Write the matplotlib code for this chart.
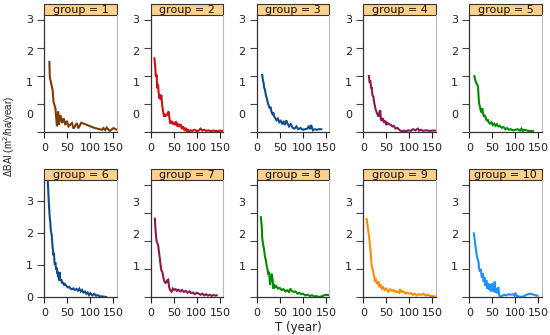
#!/usr/bin/env python3

# ten small panels of BAI decline with stand age, lattice-like strips

import matplotlib as mpl
mpl.use('Agg')
import matplotlib.pyplot as plt
import matplotlib.patches as mpatches
from matplotlib.ticker import FixedLocator

plt.rcParams['font.family'] = ['DejaVu Sans']

# ---- data (x = T in years, y = delta BAI) ----
x1 = [11, 12, 18, 20, 24, 27.5, 30, 31.5, 35, 38.5, 42, 45.5, 49, 52.5, 60, 63.5, 70.5, 74,
      80, 90, 100, 110, 125, 128, 132, 135, 142, 150, 157]
y1 = [2.5, 1.96, 1.5, 1.08, 0.85, 0.2, 0.73, 0.25, 0.61, 0.32, 0.49, 0.25, 0.4, 0.2, 0.32,
      0.12, 0.32, 0.13, 0.33, 0.27, 0.2, 0.14, 0.08, 0.14, 0.07, 0.16, 0.04, 0.14, 0.08]

x2 = [8, 10, 11, 13, 14, 16, 17, 19, 20, 22, 23, 25, 27, 29, 31, 33, 35, 37, 39, 41, 43, 45,
      47, 50, 52, 55, 57, 60, 62, 65, 68, 70, 73, 76, 78, 80, 83, 86, 90, 95, 100, 105, 108,
      112, 116, 120, 125, 130, 135, 140, 145, 150, 155, 160]
y2 = [2.63, 2.3, 1.98, 2.05, 1.56, 1.7, 1.45, 1.2, 1.35, 1.14, 1.32, 0.95, 0.7, 0.55, 0.62,
      0.58, 0.6, 0.68, 0.73, 0.45, 0.3, 0.4, 0.28, 0.35, 0.25, 0.38, 0.2, 0.3, 0.18, 0.28,
      0.1, 0.2, 0.08, 0.15, 0.02, 0.1, 0.0, 0.06, 0.04, 0.08, 0.03, 0.06, 0.12, 0.05, 0.08,
      0.04, 0.06, 0.03, 0.05, 0.04, 0.03, 0.05, 0.04, 0.05]

x3 = [12, 13, 15, 16, 18, 20, 22, 24, 26, 28, 30, 32, 34, 36, 38, 40, 43, 46, 49, 52, 55, 58,
      61, 64, 67, 70, 74, 78, 82, 86, 90, 95, 100, 105, 110, 113, 116, 118, 122, 126, 130,
      135, 140]
y3 = [2.04, 1.9, 1.75, 1.6, 1.5, 1.3, 1.2, 1.05, 0.95, 0.85, 0.9, 0.72, 0.65, 0.7, 0.55, 0.5,
      0.42, 0.48, 0.35, 0.4, 0.3, 0.36, 0.25, 0.42, 0.3, 0.2, 0.28, 0.15, 0.12, 0.2, 0.1,
      0.14, 0.08, 0.1, 0.12, 0.22, 0.1, 0.25, 0.06, 0.1, 0.08, 0.1, 0.1]

x4 = [12, 14, 15, 17, 18, 20, 22, 23, 25, 26, 28, 30, 32, 33, 35, 37, 38, 40, 42, 45, 48, 50,
      53, 56, 60, 63, 66, 70, 74, 78, 83, 88, 93, 98, 103, 108, 113, 118, 121, 125, 130, 135,
      140, 145, 150, 155, 160]
y4 = [2.0, 1.75, 1.85, 1.56, 1.6, 1.3, 1.26, 1.1, 0.95, 0.85, 0.75, 0.65, 0.6, 0.55, 0.72,
      0.77, 0.45, 0.4, 0.5, 0.33, 0.4, 0.25, 0.32, 0.28, 0.25, 0.2, 0.22, 0.12, 0.15, 0.08,
      0.02, 0.05, 0.03, 0.06, 0.04, 0.1, 0.06, 0.12, 0.05, 0.08, 0.04, 0.06, 0.05, 0.04,
      0.05, 0.05, 0.05]

x5 = [11, 13, 15, 17, 19, 20, 21, 23, 25, 27, 28, 30, 32, 34, 36, 38, 40, 42, 45, 48, 51, 54,
      57, 60, 63, 66, 70, 74, 78, 82, 86, 90, 95, 100, 105, 110, 113, 116, 120, 125, 130,
      135, 138]
y5 = [2.0, 1.85, 1.75, 1.7, 1.62, 1.3, 1.05, 0.9, 0.75, 0.7, 0.85, 0.65, 0.55, 0.6, 0.48, 0.4,
      0.45, 0.35, 0.3, 0.35, 0.25, 0.3, 0.22, 0.28, 0.2, 0.22, 0.15, 0.18, 0.1, 0.14, 0.08,
      0.1, 0.06, 0.08, 0.1, 0.05, 0.12, 0.04, 0.08, 0.05, 0.04, 0.03, 0.03]

x6 = [6, 8, 9, 10, 11, 12, 13, 14, 15, 16, 17, 18, 19, 20, 21, 22, 23, 24, 25, 26, 27, 28, 29,
      30, 31, 32, 33, 35, 37, 39, 41, 43, 45, 48, 51, 54, 57, 60, 63, 66, 70, 73, 76, 79, 82,
      85, 88, 91, 94, 97, 100, 104, 108, 112, 116, 120, 125, 130, 134]
y6 = [3.9, 3.5, 3.2, 2.9, 2.65, 2.45, 2.35, 2.1, 2.0, 1.95, 1.75, 1.55, 1.45, 1.3, 1.38, 1.1,
      1.0, 1.08, 0.95, 0.85, 0.92, 0.72, 0.8, 0.62, 0.7, 0.52, 0.78, 0.5, 0.55, 0.42, 0.46,
      0.36, 0.4, 0.34, 0.3, 0.32, 0.26, 0.24, 0.27, 0.22, 0.25, 0.2, 0.26, 0.17, 0.22, 0.14,
      0.17, 0.1, 0.14, 0.06, 0.12, 0.05, 0.1, 0.04, 0.06, 0.02, 0.02, 0.01, 0.0]

x7 = [9, 10, 12, 13, 15, 16, 18, 20, 21, 23, 25, 27, 28, 30, 32, 34, 36, 38, 40, 42, 45, 48,
      51, 54, 57, 60, 64, 68, 72, 76, 80, 84, 88, 92, 96, 100, 104, 108, 112, 116, 120, 124,
      128, 132, 136, 140, 143]
y7 = [2.8, 2.5, 2.1, 1.98, 1.9, 1.86, 1.6, 1.35, 1.2, 0.96, 0.9, 0.75, 0.65, 0.55, 0.5, 0.52,
      0.6, 0.62, 0.35, 0.25, 0.19, 0.3, 0.25, 0.28, 0.22, 0.26, 0.2, 0.25, 0.18, 0.22, 0.15,
      0.2, 0.14, 0.16, 0.1, 0.15, 0.12, 0.08, 0.12, 0.06, 0.1, 0.05, 0.08, 0.04, 0.07, 0.05,
      0.06]

x8 = [9, 11, 12, 14, 16, 18, 20, 22, 24, 25, 27, 29, 31, 33, 35, 36, 38, 40, 43, 46, 50, 54,
      58, 62, 66, 70, 73, 76, 80, 84, 88, 92, 96, 100, 105, 110, 115, 120, 125, 130, 135, 140,
      145, 150, 155]
y8 = [2.85, 2.5, 2.1, 1.86, 1.7, 1.44, 1.3, 1.08, 0.95, 0.8, 0.9, 0.43, 0.7, 0.83, 0.55, 0.3,
      0.45, 0.35, 0.38, 0.3, 0.32, 0.25, 0.28, 0.2, 0.24, 0.18, 0.3, 0.22, 0.18, 0.2, 0.12,
      0.15, 0.1, 0.12, 0.06, 0.08, 0.04, 0.06, 0.02, 0.03, 0.0, 0.02, 0.05, 0.08, 0.07]

x9 = [7, 9, 11, 13, 15, 16, 18, 20, 22, 24, 25, 27, 29, 31, 33, 35, 37, 40, 43, 46, 50, 54, 58,
      62, 66, 70, 74, 78, 80, 83, 87, 91, 95, 99, 103, 107, 111, 115, 120, 125, 130, 135, 140,
      145, 150, 156]
y9 = [2.79, 2.6, 2.33, 2.1, 1.75, 1.6, 1.14, 1.0, 0.85, 0.7, 0.55, 0.65, 0.5, 0.48, 0.55,
      0.35, 0.45, 0.3, 0.35, 0.25, 0.3, 0.19, 0.28, 0.22, 0.25, 0.18, 0.2, 0.15, 0.28, 0.18,
      0.2, 0.12, 0.16, 0.12, 0.14, 0.08, 0.12, 0.06, 0.1, 0.07, 0.12, 0.05, 0.08, 0.04, 0.03,
      0.02]

x10 = [10, 12, 14, 16, 18, 20, 21, 23, 25, 27, 29, 31, 33, 35, 37, 39, 41, 43, 45, 47, 49, 51,
       53, 55, 57, 59, 61, 63, 65, 68, 72, 76, 80, 85, 90, 95, 98, 100, 103, 108, 112, 116,
       120, 124, 128, 132, 136, 140, 144, 148]
y10 = [2.27, 2.0, 1.75, 1.5, 1.35, 1.26, 1.05, 0.9, 1.0, 0.7, 0.85, 0.55, 0.7, 0.4, 0.6, 0.3,
       0.5, 0.25, 0.45, 0.2, 0.48, 0.3, 0.19, 0.55, 0.15, 0.3, 0.13, 0.35, 0.05, 0.02, 0.05,
       0.08, 0.06, 0.1, 0.08, 0.1, 0.05, 0.15, 0.04, 0.02, 0.0, 0.02, 0.04, 0.08, 0.1, 0.12,
       0.1, 0.08, 0.06, 0.05]

groups = ["1", "2", "3", "4", "5", "6", "7", "8", "9", "10"]
xs = [x1, x2, x3, x4, x5, x6, x7, x8, x9, x10]
ys = [y1, y2, y3, y4, y5, y6, y7, y8, y9, y10]
colors = ["#7A3D07", "#CC1111", "#104E8B", "#8B1A50", "#008B00",
          "#104E8B", "#8B1A50", "#008B00", "#FF8C00", "#1E90FF"]

x_ticks = [0, 50, 100, 150]
y_labels = [0, 1, 2, 3]

# ---- layout (pixels of a 550x335 canvas) ----
W, H = 550, 335
fig = plt.figure(figsize=(W / 100, H / 100), dpi=100)

lefts = [44.3, 150.7, 256.7, 363.3, 469.3]
pw, ph = 72.4, 117.0
bottoms = [132.0, 297.0]
strip_h = 11.0

# label axis (scale, offset) per row: label = (y * scale + offset)
label_maps = [(28 / 31.7, -18 / 31.7), (28 / 32, 0.7 / 32)]

for i, g in enumerate(groups):
    row, col = divmod(i, 5)
    ax = fig.add_axes([lefts[col] / W, 1 - bottoms[row] / H, pw / W, ph / H])

    ax.plot(xs[i], ys[i], color=colors[i], lw=1.5, solid_joinstyle='miter')

    ax.set_xlim(0, 157)
    if g == "6":
        ax.set_ylim(0, 117 / 32)
        ax.set_yticks([0, 1, 2, 3])
        scale, off = 1.0, 0.0
    else:
        ax.set_ylim(0, 117 / 28)
        ax.set_yticks([0, 1, 2, 3, 4])
        scale, off = label_maps[row]
    ax.set_yticklabels([])
    ax.set_xticks(x_ticks)
    ax.set_xticklabels([str(t) for t in x_ticks])

    ax.tick_params(axis='x', length=4, width=0.8, pad=4, labelsize=8, colors='#222222')
    ax.tick_params(axis='y', length=5, width=0.8, colors='#444444')
    for s in ['left', 'bottom']:
        ax.spines[s].set_color('#333333')
        ax.spines[s].set_linewidth(0.9)
    ax.spines['right'].set_color('#bbbbbb')
    ax.spines['right'].set_linewidth(0.8)
    ax.spines['top'].set_visible(False)

    # tick labels on their own scale
    sec = ax.secondary_yaxis(
            'left',
            functions=(lambda y, s=scale, o=off: y * s + o,
                       lambda l, s=scale, o=off: (l - o) / s))
    sec.yaxis.set_major_locator(FixedLocator(y_labels))
    sec.tick_params(length=0, pad=8, labelsize=8, colors='#222222')
    sec.spines['left'].set_visible(False)

    # strip on top
    strip = mpatches.Rectangle((0, 1), 1, strip_h / ph, transform=ax.transAxes,
                               facecolor='#FFD18C', edgecolor='#333333', lw=0.8,
                               clip_on=False)
    ax.add_patch(strip)
    ax.text(0.5, 1 + strip_h / ph / 2, "group = " + g, transform=ax.transAxes,
            ha='center', va='center', fontsize=8, color='#111111')

fig.text(9 / W, 1 - 137 / H, "ΔBAI (m$^2$/ha/year)", rotation=90,
         ha='center', va='center', fontsize=7, color='#222222',
         family='Liberation Sans')
fig.text(298 / W, 1 - 327 / H, "T (year)", ha='center', va='center',
         fontsize=8.5, color='#222222')

fig.savefig("out.png", dpi=100)
plt.close('all')
